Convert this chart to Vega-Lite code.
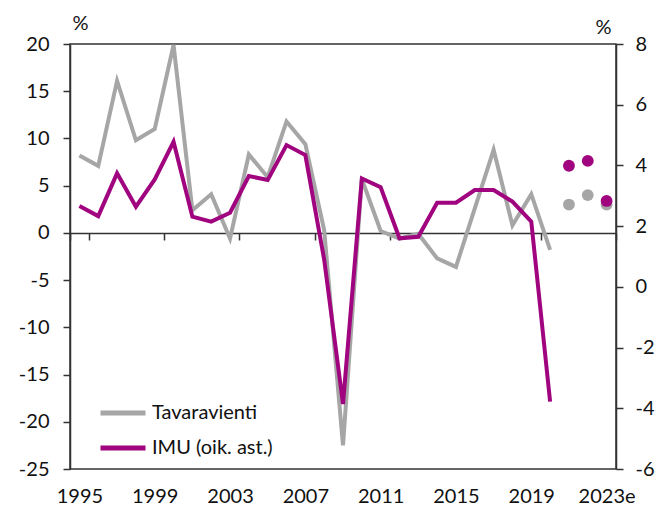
{
  "$schema": "https://vega.github.io/schema/vega-lite/v6.json",
  "width": 546,
  "height": 425,
  "autosize": {"type": "none"},
  "padding": {"left": 70, "top": 44, "right": 50, "bottom": 37},
  "background": "white",
  "config": {
    "locale": {
      "number": {"decimal": ",", "thousands": " ", "grouping": [3], "currency": ["", " €"], "minus": "-"}
    },
    "view": {"stroke": "#333333", "strokeWidth": 1.5},
    "font": "Lato",
    "axis": {
      "domainColor": "#333333",
      "domainWidth": 1.5,
      "tickColor": "#333333",
      "tickWidth": 1.5,
      "tickSize": 7,
      "labelFont": "Lato",
      "labelFontSize": 20,
      "labelColor": "#111111",
      "titleFont": "Lato",
      "titleFontSize": 20,
      "titleFontWeight": "normal",
      "titleColor": "#111111",
      "grid": false
    }
  },
  "data": {
    "values": [
      {"year": "1995", "series": "Tavaravienti", "kind": "actual", "value": 8.2},
      {"year": "1996", "series": "Tavaravienti", "kind": "actual", "value": 7.1},
      {"year": "1997", "series": "Tavaravienti", "kind": "actual", "value": 16.1},
      {"year": "1998", "series": "Tavaravienti", "kind": "actual", "value": 9.8},
      {"year": "1999", "series": "Tavaravienti", "kind": "actual", "value": 11.0},
      {"year": "2000", "series": "Tavaravienti", "kind": "actual", "value": 19.9},
      {"year": "2001", "series": "Tavaravienti", "kind": "actual", "value": 2.4},
      {"year": "2002", "series": "Tavaravienti", "kind": "actual", "value": 4.1},
      {"year": "2003", "series": "Tavaravienti", "kind": "actual", "value": -0.6},
      {"year": "2004", "series": "Tavaravienti", "kind": "actual", "value": 8.3},
      {"year": "2005", "series": "Tavaravienti", "kind": "actual", "value": 5.9},
      {"year": "2006", "series": "Tavaravienti", "kind": "actual", "value": 11.8},
      {"year": "2007", "series": "Tavaravienti", "kind": "actual", "value": 9.4},
      {"year": "2008", "series": "Tavaravienti", "kind": "actual", "value": 0.3},
      {"year": "2009", "series": "Tavaravienti", "kind": "actual", "value": -22.5},
      {"year": "2010", "series": "Tavaravienti", "kind": "actual", "value": 5.7},
      {"year": "2011", "series": "Tavaravienti", "kind": "actual", "value": 0.2},
      {"year": "2012", "series": "Tavaravienti", "kind": "actual", "value": -0.6},
      {"year": "2013", "series": "Tavaravienti", "kind": "actual", "value": -0.1},
      {"year": "2014", "series": "Tavaravienti", "kind": "actual", "value": -2.7},
      {"year": "2015", "series": "Tavaravienti", "kind": "actual", "value": -3.6},
      {"year": "2016", "series": "Tavaravienti", "kind": "actual", "value": 2.6},
      {"year": "2017", "series": "Tavaravienti", "kind": "actual", "value": 8.8},
      {"year": "2018", "series": "Tavaravienti", "kind": "actual", "value": 0.8},
      {"year": "2019", "series": "Tavaravienti", "kind": "actual", "value": 4.1},
      {"year": "2020", "series": "Tavaravienti", "kind": "actual", "value": -1.8},
      {"year": "2021", "series": "Tavaravienti", "kind": "forecast", "value": 3.0},
      {"year": "2022", "series": "Tavaravienti", "kind": "forecast", "value": 4.0},
      {"year": "2023e", "series": "Tavaravienti", "kind": "forecast", "value": 3.0},
      {"year": "1995", "series": "IMU (oik. ast.)", "kind": "actual", "value": 2.66},
      {"year": "1996", "series": "IMU (oik. ast.)", "kind": "actual", "value": 2.33},
      {"year": "1997", "series": "IMU (oik. ast.)", "kind": "actual", "value": 3.74},
      {"year": "1998", "series": "IMU (oik. ast.)", "kind": "actual", "value": 2.64},
      {"year": "1999", "series": "IMU (oik. ast.)", "kind": "actual", "value": 3.54},
      {"year": "2000", "series": "IMU (oik. ast.)", "kind": "actual", "value": 4.78},
      {"year": "2001", "series": "IMU (oik. ast.)", "kind": "actual", "value": 2.31},
      {"year": "2002", "series": "IMU (oik. ast.)", "kind": "actual", "value": 2.15},
      {"year": "2003", "series": "IMU (oik. ast.)", "kind": "actual", "value": 2.44},
      {"year": "2004", "series": "IMU (oik. ast.)", "kind": "actual", "value": 3.65},
      {"year": "2005", "series": "IMU (oik. ast.)", "kind": "actual", "value": 3.52},
      {"year": "2006", "series": "IMU (oik. ast.)", "kind": "actual", "value": 4.67},
      {"year": "2007", "series": "IMU (oik. ast.)", "kind": "actual", "value": 4.34},
      {"year": "2008", "series": "IMU (oik. ast.)", "kind": "actual", "value": 0.9},
      {"year": "2009", "series": "IMU (oik. ast.)", "kind": "actual", "value": -3.86},
      {"year": "2010", "series": "IMU (oik. ast.)", "kind": "actual", "value": 3.57},
      {"year": "2011", "series": "IMU (oik. ast.)", "kind": "actual", "value": 3.28},
      {"year": "2012", "series": "IMU (oik. ast.)", "kind": "actual", "value": 1.6},
      {"year": "2013", "series": "IMU (oik. ast.)", "kind": "actual", "value": 1.65},
      {"year": "2014", "series": "IMU (oik. ast.)", "kind": "actual", "value": 2.77},
      {"year": "2015", "series": "IMU (oik. ast.)", "kind": "actual", "value": 2.77},
      {"year": "2016", "series": "IMU (oik. ast.)", "kind": "actual", "value": 3.19},
      {"year": "2017", "series": "IMU (oik. ast.)", "kind": "actual", "value": 3.19},
      {"year": "2018", "series": "IMU (oik. ast.)", "kind": "actual", "value": 2.81},
      {"year": "2019", "series": "IMU (oik. ast.)", "kind": "actual", "value": 2.15},
      {"year": "2020", "series": "IMU (oik. ast.)", "kind": "actual", "value": -3.78},
      {"year": "2021", "series": "IMU (oik. ast.)", "kind": "forecast", "value": 3.99},
      {"year": "2022", "series": "IMU (oik. ast.)", "kind": "forecast", "value": 4.15},
      {"year": "2023e", "series": "IMU (oik. ast.)", "kind": "forecast", "value": 2.83}
    ]
  },
  "layer": [
    {
      "transform": [{"filter": "datum.series == 'Tavaravienti'"}],
      "encoding": {
        "x": {
          "field": "year",
          "type": "ordinal",
          "bandPosition": 0.5,
          "scale": {"type": "band", "paddingInner": 0, "paddingOuter": 0},
          "axis": {
            "orient": "bottom",
            "title": null,
            "values": ["1995", "1999", "2003", "2007", "2011", "2015", "2019", "2023e"],
            "tickBand": "extent",
            "labelAngle": 0,
            "labelBaseline": "top",
            "offset": -236,
            "labelPadding": 246
          }
        },
        "y": {
          "field": "value",
          "type": "quantitative",
          "scale": {"domain": [-25, 20], "nice": false, "zero": false},
          "axis": {
            "orient": "left",
            "values": [-25, -20, -15, -10, -5, 0, 5, 10, 15, 20],
            "labelPadding": 14,
            "title": "%",
            "titleAngle": 0,
            "titleAlign": "center",
            "titleBaseline": "alphabetic",
            "titleX": 10,
            "titleY": -15
          }
        }
      },
      "layer": [
        {
          "transform": [{"filter": "datum.kind == 'actual'"}],
          "mark": {"type": "line", "strokeWidth": 4, "strokeJoin": "miter"},
          "encoding": {
            "color": {
              "field": "series",
              "type": "nominal",
              "scale": {"domain": ["Tavaravienti", "IMU (oik. ast.)"], "range": ["#A6A6A6", "#A0047F"]},
              "legend": {
                "title": null,
                "orient": "none",
                "legendX": 28,
                "legendY": 344,
                "padding": 0,
                "symbolType": "stroke",
                "symbolSize": 2025,
                "symbolStrokeWidth": 5,
                "labelFont": "Lato",
                "labelFontSize": 20,
                "labelColor": "#111111",
                "labelOffset": 4,
                "rowPadding": -15
              }
            }
          }
        },
        {
          "transform": [{"filter": "datum.kind == 'forecast'"}],
          "mark": {"type": "point", "filled": true, "opacity": 1, "size": 140, "color": "#A6A6A6"}
        }
      ]
    },
    {
      "transform": [{"filter": "datum.series == 'IMU (oik. ast.)'"}],
      "encoding": {
        "x": {"field": "year", "type": "ordinal", "bandPosition": 0.5},
        "y": {
          "field": "value",
          "type": "quantitative",
          "scale": {"domain": [-6, 8], "nice": false, "zero": false},
          "axis": {
            "orient": "right",
            "values": [-6, -4, -2, 0, 2, 4, 6, 8],
            "labelPadding": 12,
            "title": "%",
            "titleAngle": 0,
            "titleAlign": "center",
            "titleBaseline": "alphabetic",
            "titleX": -13,
            "titleY": -11
          }
        }
      },
      "layer": [
        {
          "transform": [{"filter": "datum.kind == 'actual'"}],
          "mark": {"type": "line", "strokeWidth": 4, "strokeJoin": "miter"},
          "encoding": {
            "color": {"field": "series", "type": "nominal"}
          }
        },
        {
          "transform": [{"filter": "datum.kind == 'forecast'"}],
          "mark": {"type": "point", "filled": true, "opacity": 1, "size": 140, "color": "#A0047F"}
        }
      ]
    }
  ],
  "resolve": {"scale": {"y": "independent"}}
}
